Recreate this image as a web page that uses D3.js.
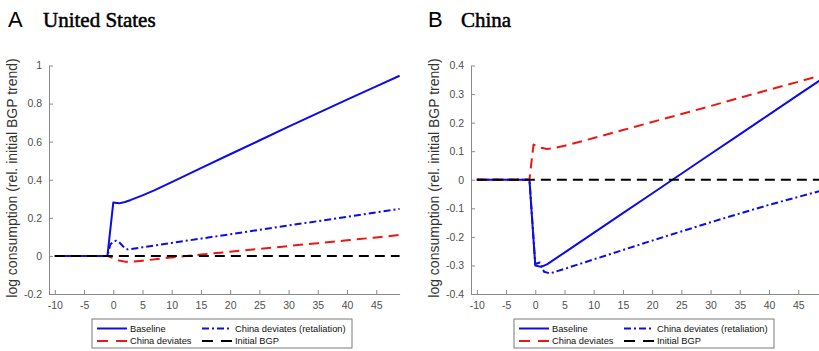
<!DOCTYPE html>
<html>
<head>
<meta charset="utf-8">
<script src="https://cdnjs.cloudflare.com/ajax/libs/d3/7.8.5/d3.min.js"></script>
<style>
  body { margin: 0; background: #fff; }
  svg { display: block; }
</style>
</head>
<body>
<div id="chart"></div>
<script>
// values, [year, log consumption]
var usBaseline = [[-10,0],[-1,0],[0,0.28],[1,0.276],[2,0.283],[3,0.294],[5,0.318],[7,0.344],[10,0.388],[15,0.461],[20,0.534],[25,0.606],[30,0.679],[35,0.75],[40,0.821],[45,0.89],[49,0.946]];
var usRetaliation = [[-10,0],[-1,0],[-0.5,0.06],[0,0.076],[0.5,0.08],[1,0.072],[1.5,0.056],[2,0.04],[2.5,0.034],[5,0.045],[10,0.068],[20,0.114],[30,0.16],[40,0.205],[49,0.247]];
var usDeviates = [[-10,0],[-1,0],[0,-0.012],[1,-0.024],[2,-0.03],[3,-0.031],[5,-0.025],[10,-0.008],[12,-0.002],[15,0.007],[20,0.022],[25,0.037],[30,0.052],[35,0.067],[40,0.082],[45,0.097],[49,0.11]];
var usInitial = [[-10,0],[49,0]];

var cnBaseline = [[-10,0],[-1,0],[0,-0.3],[1,-0.305],[2,-0.296],[5,-0.255],[10,-0.186],[15,-0.117],[20,-0.048],[25,0.021],[30,0.09],[35,0.159],[40,0.228],[45,0.297],[49,0.352]];
var cnRetaliation = [[-10,0],[-1,0],[0,-0.295],[0.8,-0.29],[1.5,-0.322],[2.5,-0.328],[5,-0.312],[10,-0.279],[15,-0.246],[20,-0.213],[25,-0.181],[30,-0.149],[35,-0.118],[40,-0.088],[45,-0.06],[49,-0.038]];
var cnDeviates = [[-10,0],[-1,0],[-0.3,0.123],[1,0.112],[2,0.108],[3,0.11],[5,0.119],[10,0.146],[15,0.174],[20,0.202],[25,0.23],[30,0.258],[35,0.287],[40,0.315],[45,0.343],[49,0.366]];
var cnInitial = [[-10,0],[49,0]];

var xTicks = [-10,-5,0,5,10,15,20,25,30,35,40,45];
var usYTicks = [-0.2,0,0.2,0.4,0.6,0.8,1];
var cnYTicks = [-0.4,-0.3,-0.2,-0.1,0,0.1,0.2,0.3,0.4];
var legendNames = ["Baseline", "China deviates (retaliation)", "China deviates", "Initial BGP"];

var W = 819, H = 351;
var blue = "#0c0ce8", red = "#ee1515", black = "#000";

var svg = d3.select("#chart").append("svg")
  .attr("width", W).attr("height", H);

function drawPanel(cfg){
  var g = svg.append("g").attr("transform", "translate(" + cfg.dx + ",0)");

  var x = d3.scaleLinear().domain([-11, 49]).range([49, 399.6]);
  var y = d3.scaleLinear().domain(cfg.yDomain).range([294, 65.5]);

  // titles
  g.append("text").attr("x", cfg.letterX).attr("y", 27)
    .style("font-family", "Liberation Sans, Arial, sans-serif")
    .style("font-size", "22px").text(cfg.letter);
  g.append("text").attr("x", cfg.titleX).attr("y", 27)
    .style("font-family", "Liberation Serif, Times New Roman, serif")
    .style("font-size", "21px")
    .attr("stroke", "#000").attr("stroke-width", 0.5)
    .text(cfg.title);

  // axes, ticks inside like matlab
  var xAxis = d3.axisBottom(x).tickValues(xTicks).tickSizeInner(-4).tickSizeOuter(0).tickPadding(8)
    .tickFormat(function(d){ return String(d); });
  var yAxis = d3.axisLeft(y).tickValues(cfg.yTicks).tickSizeInner(-4).tickSizeOuter(0).tickPadding(7)
    .tickFormat(function(d){ return String(Math.round(d*10)/10); });

  var gx = g.append("g").attr("transform", "translate(0,294)").call(xAxis);
  var gy = g.append("g").attr("transform", "translate(49,0)").call(yAxis);
  [gx, gy].forEach(function(a){
    a.select(".domain").attr("stroke", "#8a8a8a");
    a.selectAll(".tick line").attr("stroke", "#8a8a8a");
    a.selectAll(".tick text")
      .attr("fill", "#505050")
      .style("font-family", "Liberation Sans, Arial, sans-serif")
      .style("font-size", "10.5px");
  });

  g.append("text")
    .attr("transform", "translate(" + 17 + ",178) rotate(-90)")
    .attr("text-anchor", "middle")
    .attr("fill", "#333")
    .style("font-family", "Liberation Sans, Arial, sans-serif")
    .style("font-size", "14px")
    .text("log consumption (rel. initial BGP trend)");

  var line = d3.line().x(function(d){ return x(d[0]); }).y(function(d){ return y(d[1]); });

  var series = [
    {data: cfg.baseline, color: blue, dash: null, key: null},
    {data: cfg.retaliation, color: blue, dash: "7,3,2,3", key: "7,3,2,3"},
    {data: cfg.deviates, color: red, dash: "10,6", key: "11,8"},
    {data: cfg.initial, color: black, dash: "10,6", key: "11,8"}
  ];
  series.forEach(function(s){
    g.append("path")
      .attr("d", line(s.data))
      .attr("fill", "none")
      .attr("stroke", s.color)
      .attr("stroke-width", 2)
      .attr("stroke-dasharray", s.dash)
      .attr("stroke-linejoin", "round");
  });

  // legend
  var lg = g.append("g").attr("transform", "translate(92,319)");
  lg.append("rect").attr("x", 0).attr("y", 0).attr("width", 260).attr("height", 29)
    .attr("fill", "#fff").attr("stroke", "#7a7a7a").attr("stroke-width", 1);
  var pos = [[5, 9.5], [110, 9.5], [5, 22], [110, 22]];
  series.forEach(function(s, i){
    var p = pos[i];
    lg.append("line")
      .attr("x1", p[0]).attr("x2", p[0] + 30)
      .attr("y1", p[1]).attr("y2", p[1])
      .attr("stroke", s.color).attr("stroke-width", 2)
      .attr("stroke-dasharray", s.key);
    lg.append("text")
      .attr("x", p[0] + 33).attr("y", p[1] + 3.3)
      .attr("fill", "#111")
      .style("font-family", "Liberation Sans, Arial, sans-serif")
      .style("font-size", "9.3px")
      .text(legendNames[i]);
  });
}

drawPanel({dx: 0, letter: "A", letterX: 8, titleX: 43, title: "United States",
  yDomain: [-0.2, 1], yTicks: usYTicks,
  baseline: usBaseline, retaliation: usRetaliation, deviates: usDeviates, initial: usInitial});

drawPanel({dx: 422, letter: "B", letterX: 6, titleX: 39, title: "China",
  yDomain: [-0.4, 0.4], yTicks: cnYTicks,
  baseline: cnBaseline, retaliation: cnRetaliation, deviates: cnDeviates, initial: cnInitial});
</script>
</body>
</html>
